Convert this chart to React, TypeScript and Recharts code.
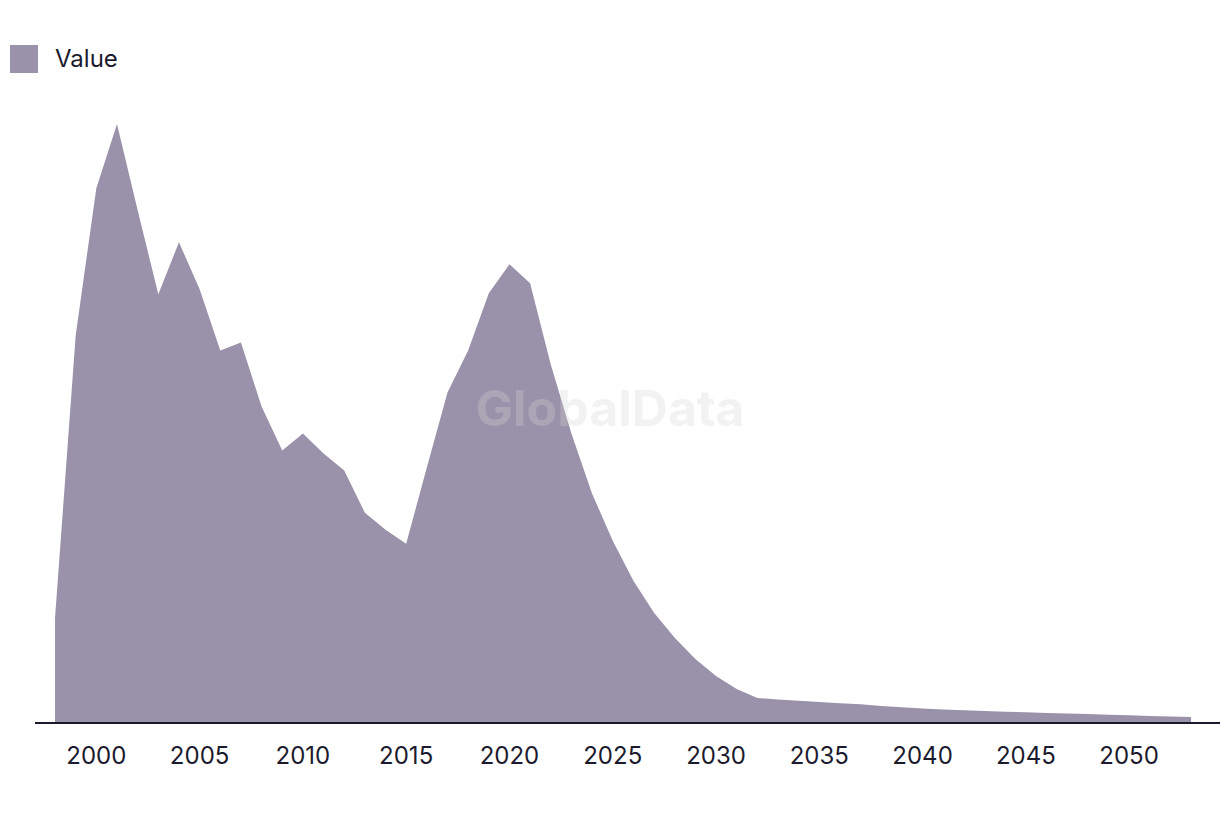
import React from "react";
import { AreaChart, Area, XAxis, YAxis } from "recharts";

const years: number[] = [
  1998, 1999, 2000, 2001, 2002, 2003, 2004, 2005, 2006, 2007, 2008, 2009, 2010,
  2011, 2012, 2013, 2014, 2015, 2016, 2017, 2018, 2019, 2020, 2021, 2022, 2023,
  2024, 2025, 2026, 2027, 2028, 2029, 2030, 2031, 2032, 2033, 2034, 2035, 2036,
  2037, 2038, 2039, 2040, 2041, 2042, 2043, 2044, 2045, 2046, 2047, 2048, 2049,
  2050, 2051, 2052, 2053,
];

const values: number[] = [
  105, 387, 534, 598, 512, 428, 480, 433, 372, 380, 316, 272, 289, 269, 252,
  210, 193, 179, 255, 330, 372, 429, 458, 439, 358, 289, 229, 182, 142, 110,
  85, 64, 47, 34, 25, 23.5, 22.3, 21, 19.8, 18.7, 17, 15.8, 14.5, 13.6, 12.8,
  12, 11.3, 10.7, 10.1, 9.5, 8.9, 8.3, 7.7, 7.1, 6.6, 6,
];

const tickYears: number[] = [2000, 2005, 2010, 2015, 2020, 2025, 2030, 2035, 2040, 2045, 2050];

const seriesName = "Value";
const watermark = "GlobalData";

const data = years.map((y, i) => ({ year: y, value: values[i] }));

const FONT = "Inter, 'Noto Sans', sans-serif";
const AREA = "#9a91aa";
const INK = "#1c1b2e";

export default function App() {
  return (
    <div style={{ position: "absolute", left: 0, top: 0, width: 1220, height: 816, background: "#fff" }}>
      <div
        style={{
          position: "absolute",
          left: 10,
          top: 44,
          display: "flex",
          alignItems: "center",
          fontFamily: FONT,
          fontSize: 24,
          color: INK,
        }}
      >
        <span style={{ display: "inline-block", width: 28, height: 28, background: AREA, marginRight: 17 }} />
        <span>{seriesName}</span>
      </div>
      <AreaChart
        width={1220}
        height={816}
        data={data}
        margin={{ top: 102, right: 0, bottom: 63, left: 35 }}
      >
        <XAxis
          dataKey="year"
          type="number"
          domain={[1997.03, 2054.4]}
          allowDataOverflow
          ticks={tickYears}
          interval={0}
          tickLine={false}
          tickSize={0}
          tickMargin={24}
          axisLine={{ stroke: INK, strokeWidth: 2 }}
          tick={{ fill: INK, fontSize: 24, fontFamily: FONT }}
          height={30}
        />
        <YAxis hide domain={[0, 620]} allowDataOverflow />
        <Area
          type="linear"
          dataKey="value"
          name={seriesName}
          stroke="none"
          fill={AREA}
          fillOpacity={1}
          isAnimationActive={false}
        />
      </AreaChart>
      <svg
        width={1220}
        height={816}
        style={{ position: "absolute", left: 0, top: 0, pointerEvents: "none" }}
      >
        <text
          x={610}
          y={408}
          textAnchor="middle"
          dominantBaseline="central"
          fontFamily={FONT}
          fontWeight={700}
          fontSize={50}
          fill="#d4d4d4"
          fillOpacity={0.3}
        >
          {watermark}
        </text>
      </svg>
    </div>
  );
}
